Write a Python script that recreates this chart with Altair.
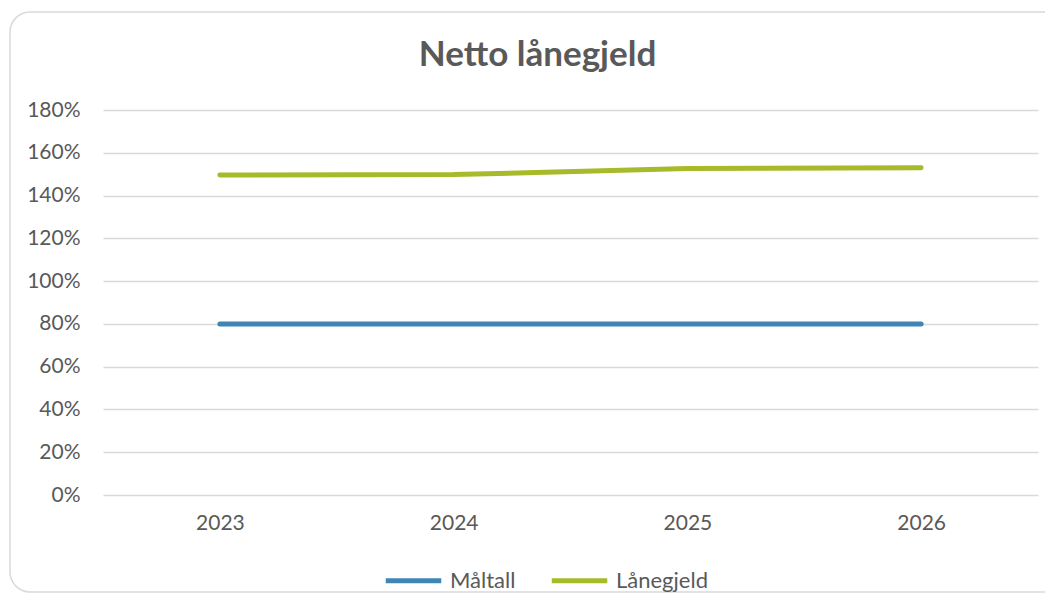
import altair as alt
import pandas as pd

years = ["2023", "2024", "2025", "2026"]
maltall = [0.80, 0.80, 0.80, 0.80]
lanegjeld = [1.496, 1.498, 1.526, 1.530]
series_names = ["Måltall", "Lånegjeld"]
series_colors = ["#3F86B5", "#A6BA2A"]
y_ticks = [0, 0.2, 0.4, 0.6, 0.8, 1.0, 1.2, 1.4, 1.6, 1.8]
title_text = ["Netto lånegjeld"]

rows = []
for y, v in zip(years, maltall):
    rows.append({"year": y, "serie": series_names[0], "value": v})
for y, v in zip(years, lanegjeld):
    rows.append({"year": y, "serie": series_names[1], "value": v})
df = pd.DataFrame(rows)

W, H = 935, 385
FONT = "Lato"
GREY = "#595959"

box = alt.Chart(pd.DataFrame({"k": [0]})).mark_rect(
    fillOpacity=0, stroke="#D9D9D9", strokeWidth=1.5, cornerRadius=20
).encode(
    x=alt.value(-93), x2=alt.value(980), y=alt.value(-98), y2=alt.value(482)
)

title = alt.Chart(pd.DataFrame({"t": title_text})).mark_text(
    font=FONT, fontSize=35, fontWeight="bold", color=GREY,
    align="center", baseline="middle"
).encode(text="t:N", x=alt.value(W / 2 - 33), y=alt.value(-55))

lines = alt.Chart(df).mark_line(strokeWidth=5, strokeCap="round").encode(
    x=alt.X("year:O", scale=alt.Scale(type="point", padding=0.5),
            axis=alt.Axis(title=None, labelAngle=0, ticks=False, domain=False,
                          grid=False, labelPadding=17, labelFont=FONT,
                          labelFontSize=21, labelColor=GREY)),
    y=alt.Y("value:Q", scale=alt.Scale(domain=[0, 1.8], nice=False),
            axis=alt.Axis(title=None, values=y_ticks, format=".0%", ticks=False,
                          domain=False, labelPadding=23, labelFont=FONT,
                          labelFontSize=21, labelColor=GREY,
                          gridColor="#D9D9D9", gridWidth=1.5)),
    color=alt.Color("serie:N", scale=alt.Scale(domain=series_names, range=series_colors),
                    sort=series_names,
                    legend=alt.Legend(title=None, orient="none", direction="horizontal",
                                      legendX=280, legendY=440, padding=0,
                                      symbolType="stroke", symbolSize=3080,
                                      symbolStrokeWidth=5, labelOffset=6,
                                      columnPadding=25, labelFont=FONT,
                                      labelFontSize=22, labelColor=GREY)),
    order=alt.Order("year:O"),
)

chart = alt.layer(box, title, lines).properties(
    width=W, height=H,
    autosize=alt.AutoSizeParams(type="none"),
    padding={"left": 95, "top": 102, "right": 7, "bottom": 99},
).configure(background="white").configure_view(strokeOpacity=0)

chart.save("out.html", embed_options={"renderer": "svg", "actions": False})
